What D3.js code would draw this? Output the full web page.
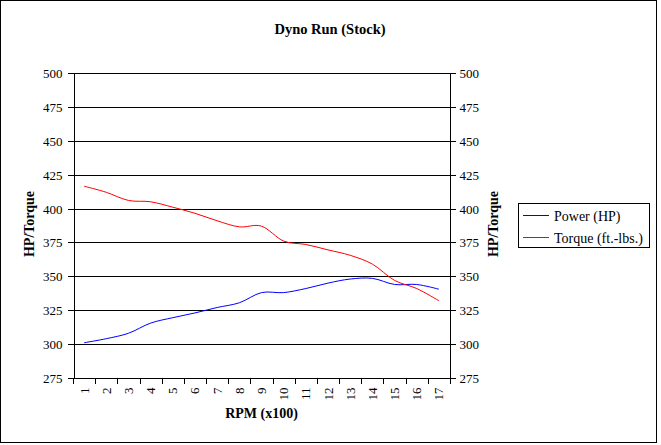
<!DOCTYPE html>
<html><head><meta charset="utf-8">
<script src="https://cdn.jsdelivr.net/npm/d3@7"></script>
<style>
html,body{margin:0;padding:0;background:#fff;}
svg text{font-family:"Liberation Serif","Times New Roman",serif;fill:#000;}
</style></head>
<body><svg id="c" width="661" height="445"></svg>
<script>
const categories = [1,2,3,4,5,6,7,8,9,10,11,12,13,14,15,16,17];
const powerHP = [301, 304, 308, 315.5, 319.5, 323, 327, 330.5, 338, 338, 341, 345, 348, 348.5, 344, 344, 340.5];
const torque = [416.5, 412, 406, 405, 401, 396.5, 391, 386.5, 387, 376, 373.5, 369.5, 365.5, 359, 347, 341, 332];
const yTicks = [275,300,325,350,375,400,425,450,475,500];
const seriesNames = ["Power (HP)", "Torque (ft.-lbs.)"];
const seriesColors = ["#0000ff", "#ff0000"];

const svg = d3.select("#c");
const L = 73, R = 450, T = 73, B = 378;
const x = d3.scaleBand().domain(categories).range([L, R]).padding(0);
const y = d3.scaleLinear().domain([275, 500]).range([B, T]);
const cr = v => Math.round(v) + 0.5;

// outer border
svg.append("rect").attr("x",0.5).attr("y",0.5).attr("width",656).attr("height",442)
  .attr("fill","none").attr("stroke","#000");

// title
svg.append("text").attr("x",330).attr("y",34).attr("text-anchor","middle")
  .attr("font-size","14.5px").attr("font-weight","bold").text("Dyno Run (Stock)");

// gridlines
svg.append("g").selectAll("line").data(yTicks.filter(d=>d>275)).join("line")
  .attr("x1",L).attr("x2",R).attr("y1",d=>cr(y(d))).attr("y2",d=>cr(y(d)))
  .attr("stroke","#000").attr("shape-rendering","crispEdges");

// left axis
const gl = svg.append("g").attr("transform",`translate(${L+0.5},0.5)`)
  .call(d3.axisLeft(y).tickValues(yTicks).tickSize(6).tickPadding(5).tickSizeOuter(0));
// right axis
const gr = svg.append("g").attr("transform",`translate(${R-0.5},0.5)`)
  .call(d3.axisRight(y).tickValues(yTicks).tickSize(6).tickPadding(4).tickSizeOuter(0));
[gl,gr].forEach(g=>{
  g.selectAll(".tick").attr("transform",d=>`translate(0,${Math.round(y(d))})`);
  g.select(".domain").attr("stroke","#000").attr("shape-rendering","crispEdges");
  g.selectAll(".tick line").attr("stroke","#000").attr("shape-rendering","crispEdges");
  g.selectAll(".tick text").attr("font-size","13px").attr("font-family","Liberation Serif").attr("dy","0.35em");
});

// bottom axis
const bx = svg.append("g").attr("transform",`translate(0,${B+0.5})`);
bx.append("line").attr("x1",L).attr("x2",R).attr("stroke","#000").attr("shape-rendering","crispEdges");
const boundaries = categories.map(c=>x(c)).concat([R]);
bx.selectAll("line.tk").data(boundaries).join("line").attr("class","tk")
  .attr("x1",d=>cr(d)).attr("x2",d=>cr(d)).attr("y1",0).attr("y2",5)
  .attr("stroke","#000").attr("shape-rendering","crispEdges");
bx.selectAll("text").data(categories).join("text")
  .attr("transform",d=>`translate(${x(d)+x.bandwidth()/2+4.5},9) rotate(-90)`)
  .attr("text-anchor","end").attr("font-size","13px").text(d=>d);

// axis titles
svg.append("text").attr("x",261.5).attr("y",418).attr("text-anchor","middle")
  .attr("font-size","14px").attr("font-weight","bold").text("RPM (x100)");
svg.append("text").attr("transform","translate(34,224) rotate(-90)").attr("text-anchor","middle")
  .attr("font-size","14px").attr("font-weight","bold").text("HP/Torque");
svg.append("text").attr("transform","translate(497.5,224) rotate(-90)").attr("text-anchor","middle")
  .attr("font-size","14px").attr("font-weight","bold").text("HP/Torque");

// lines
const line = d3.line().x((d,i)=>x(categories[i])+x.bandwidth()/2).y(d=>y(d))
  .curve(d3.curveCardinal.tension(0));
[powerHP, torque].forEach((s,k)=>{
  svg.append("path").datum(s).attr("d",line).attr("fill","none")
    .attr("stroke",seriesColors[k]).attr("stroke-width",1);
});

// legend
const lg = svg.append("g");
lg.append("rect").attr("x",518.5).attr("y",203.5).attr("width",131).attr("height",44)
  .attr("fill","#fff").attr("stroke","#000");
seriesNames.forEach((n,k)=>{
  const yy = 215.5 + k*22;
  lg.append("line").attr("x1",523).attr("x2",549).attr("y1",yy).attr("y2",yy)
    .attr("stroke",seriesColors[k]).attr("shape-rendering","crispEdges");
  lg.append("text").attr("x",554).attr("y",yy+5).attr("font-size","14px").text(n);
});
</script></body></html>
